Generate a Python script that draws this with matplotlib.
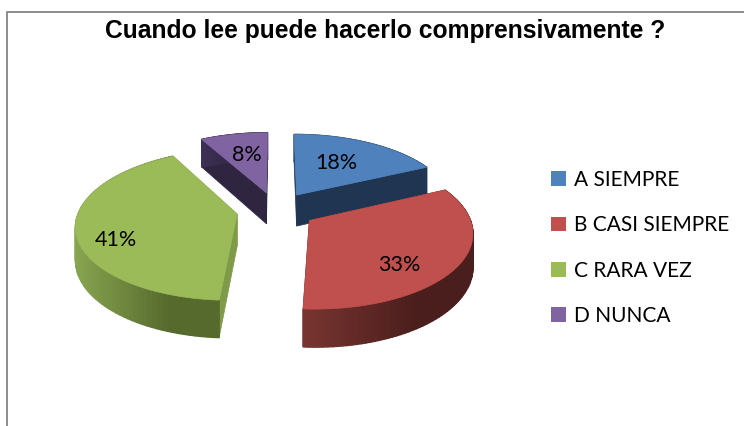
import matplotlib
matplotlib.use("Agg")
import matplotlib.pyplot as plt
import numpy as np
from matplotlib.patches import Patch, Polygon
from matplotlib.colors import to_rgb

# data
categories = ["A SIEMPRE", "B CASI SIEMPRE", "C RARA VEZ", "D NUNCA"]
values = [18, 33, 41, 8]
title = "Cuando lee puede hacerlo comprensivamente ?"

# colours
TOP = ["#4f81bd", "#c0504d", "#9bbb59", "#8064a2"]
WALL = ["#1f3552", "#4c1f1e", "#7f9a49", "#2f2540"]
RIM_LEFT = ["#2a4468", "#7a3531", "#88a550", "#3d3055"]
RIM_RIGHT = ["#1f3552", "#4a1e1c", "#566a2d", "#2f2540"]

# pie projection, in pixels
CX, CY = 276, 210
RX, RY = 158, 73
PERSP = 0.14
EXPLODE = 0.25
DEPTH = 32
LABEL_POS = 0.9
LABEL_SHIFT = [(-9, 3), (-3, 15), (-17, 15), (2, 2)]


def project(a, b):
    """Flat pie coordinates to pixels, returns x, y and the wall height"""
    w = 1 + PERSP * b
    return CX + RX * a / w, CY - RY * b / w, DEPTH / w


def drawSlice(ax, i, start, end):
    mid = (start + end) / 2
    ex, ey = EXPLODE * np.sin(mid), EXPLODE * np.cos(mid)
    th = np.linspace(start, end, 80)
    x, y, d = project(ex + np.sin(th), ey + np.cos(th))
    ax0, ay0, ad = project(ex, ey)

    # radial walls first, then the rim, top face last
    for j in (0, -1):
        wall = [(ax0, ay0), (x[j], y[j]), (x[j], y[j] + d[j]), (ax0, ay0 + ad)]
        ax.add_patch(Polygon(wall, fc=WALL[i], ec=WALL[i], lw=0.5))

    left, right = np.array(to_rgb(RIM_LEFT[i])), np.array(to_rgb(RIM_RIGHT[i]))
    for j in range(len(th) - 1):
        t = (x[j] - x.min()) / (x.max() - x.min())
        t = min(1, t * 1.5)
        c = left + (right - left) * t
        quad = [(x[j], y[j]), (x[j + 1], y[j + 1]),
                (x[j + 1], y[j + 1] + d[j + 1]), (x[j], y[j] + d[j])]
        ax.add_patch(Polygon(quad, fc=c, ec=c, lw=1))

    face = [(ax0, ay0)] + list(zip(x, y))
    ax.add_patch(Polygon(face, fc=TOP[i], ec=TOP[i], lw=0.5))


fig = plt.figure(figsize=(7.44, 4.26), dpi=100)
ax = fig.add_axes([0, 0, 1, 1])
ax.set_xlim(0, 744)
ax.set_ylim(426, 0)
ax.axis("off")

# chart frame, only top and left show
ax.plot([7, 7, 744], [426, 12, 12], color="#8c8c8c", lw=1.4)

ax.text(385, 31, title, ha="center", va="center", fontsize=17.7,
        fontweight="bold", family="Liberation Sans", color="black")

edges = np.radians(np.cumsum([0] + values) * 3.6)
order = [3, 0, 2, 1]  # back slices first
for i in order:
    drawSlice(ax, i, edges[i], edges[i + 1])

for i in order:
    mid = (edges[i] + edges[i + 1]) / 2
    lx, ly, _ = project(LABEL_POS * np.sin(mid), LABEL_POS * np.cos(mid))
    ax.text(lx + LABEL_SHIFT[i][0], ly + LABEL_SHIFT[i][1], f"{values[i]}%",
            ha="center", va="center", fontsize=15.5, family="Lato", color="black")

handles = [Patch(fc=TOP[i], ec="none", label=categories[i]) for i in range(4)]
ax.legend(handles=handles, loc="center left", bbox_to_anchor=(551 / 744, 1 - 248 / 426),
          frameon=False, borderpad=0, borderaxespad=0,
          prop={"family": "Lato", "size": 15}, handlelength=0.72, handleheight=0.72,
          handletextpad=0.4, labelspacing=1.22)

fig.savefig("out.png", dpi=100)
